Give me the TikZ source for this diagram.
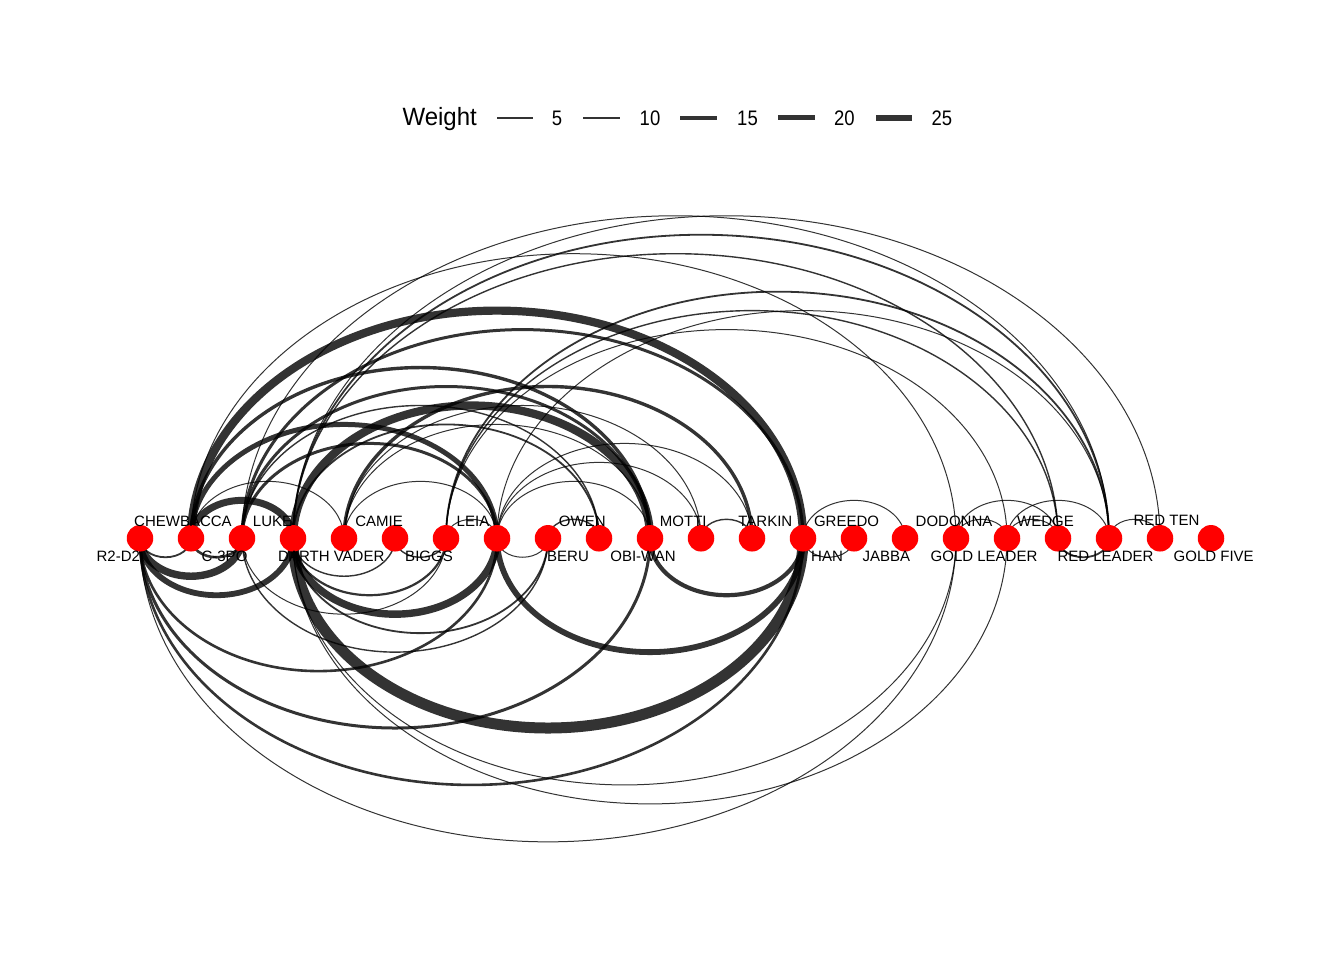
\documentclass[tikz,border=0pt]{standalone}
\usepackage{fontspec}
\setmainfont{Liberation Sans}
\usepackage{graphicx}
\usetikzlibrary{calc,backgrounds}
\definecolor{edgegray}{RGB}{51,51,51}
\tikzset{
  dot/.style={circle, fill={rgb,255:red,255;green,0;blue,0}, draw=none, minimum size=26.5pt, inner sep=0pt},
  lab/.style={anchor=base, inner sep=0pt, font=\fontsize{15}{18}\selectfont},
  edgeline/.style={draw=black, draw opacity=0.8, line cap=butt},
  legbar/.style={fill=edgegray, draw=none},
  legnum/.style={anchor=base, inner sep=0pt, font=\fontsize{21}{24}\selectfont},
}
\newcommand{\edgeup}[3]{\draw[edgeline, line width={0.4*#3+0.6}] let \p1=(n#1), \p2=(n#2) in (\p1) arc[start angle=180, end angle=0, x radius={(\x2-\x1)/2}, y radius={0.744*(\x2-\x1)/2}];}
\newcommand{\edgedn}[3]{\draw[edgeline, line width={0.4*#3+0.6}] let \p1=(n#1), \p2=(n#2) in (\p1) arc[start angle=180, end angle=360, x radius={(\x2-\x1)/2}, y radius={0.744*(\x2-\x1)/2}];}
\begin{document}
\begin{tikzpicture}[x=1pt,y=1pt]
\useasboundingbox (0,0) rectangle (1344,960);
% nodes
\foreach \i in {0,...,21} \node[dot] (n\i) at ({140+51*\i},421.7) {};
% edges
\begin{scope}[on background layer]
\fill[white] (0,0) rectangle (1344,960);
% above arcs (left to right)
\edgeup{1}{10}{7}
\edgeup{1}{3}{16}
\edgeup{1}{13}{19}
\edgeup{1}{7}{11}
\edgeup{1}{4}{1}
\edgeup{1}{16}{1}
\edgeup{4}{7}{1}
\edgeup{8}{9}{2}
\edgeup{3}{9}{3}
\edgeup{2}{9}{2}
\edgeup{2}{7}{6}
\edgeup{3}{10}{19}
\edgeup{2}{10}{6}
\edgeup{7}{10}{1}
\edgeup{11}{12}{2}
\edgeup{4}{11}{1}
\edgeup{4}{12}{7}
\edgeup{13}{15}{1}
\edgeup{2}{13}{6}
\edgeup{7}{11}{1}
\edgeup{7}{12}{1}
\edgeup{4}{10}{1}
\edgeup{16}{17}{1}
\edgeup{16}{18}{1}
\edgeup{17}{18}{1}
\edgeup{3}{18}{2}
\edgeup{6}{7}{1}
\edgeup{7}{19}{1}
\edgeup{3}{19}{3}
\edgeup{6}{19}{3}
\edgeup{2}{19}{1}
\edgeup{17}{19}{1}
\edgeup{6}{18}{2}
\edgeup{19}{20}{1}
\edgeup{6}{17}{1}
\edgeup{3}{20}{1}
% below arcs
\edgedn{0}{2}{17}
\edgedn{0}{3}{13}
\edgedn{0}{10}{6}
\edgedn{0}{7}{5}
\edgedn{0}{13}{5}
\edgedn{0}{1}{3}
\edgedn{0}{16}{1}
\edgedn{1}{2}{5}
\edgedn{3}{5}{2}
\edgedn{5}{6}{2}
\edgedn{3}{6}{4}
\edgedn{3}{8}{3}
\edgedn{2}{8}{2}
\edgedn{3}{7}{17}
\edgedn{7}{8}{1}
\edgedn{10}{13}{9}
\edgedn{3}{13}{26}
\edgedn{13}{14}{1}
\edgedn{7}{13}{13}
\edgedn{3}{16}{1}
\edgedn{3}{17}{1}
\edgedn{2}{6}{1}
\edgedn{18}{19}{3}
\end{scope}
% labels
\node[lab] (l0) at (118.3,398.3) {R2-D2};
\node[lab] (l1) at (183,433.3) {CHEWBACCA};
\node[lab] (l2) at (224.5,398.3) {C-3PO};
\node[lab] (l3) at (272.5,433.3) {LUKE};
\node[lab] (l4) at (331.3,398.3) {DARTH VADER};
\node[lab] (l5) at (379,433.3) {CAMIE};
\node[lab] (l6) at (429,398.3) {BIGGS};
\node[lab] (l7) at (473,433.3) {LEIA};
\node[lab] (l8) at (568,398.3) {BERU};
\node[lab] (l9) at (582.3,433.3) {OWEN};
\node[lab] (l10) at (643,398.3) {OBI-WAN};
\node[lab] (l11) at (683.3,433.3) {MOTTI};
\node[lab] (l12) at (765.3,433.3) {TARKIN};
\node[lab] (l13) at (827,398.3) {HAN};
\node[lab] (l14) at (846.5,433.3) {GREEDO};
\node[lab] (l15) at (886.3,398.3) {JABBA};
\node[lab] (l16) at (954,433.3) {DODONNA};
\node[lab] (l17) at (984,398.3) {GOLD LEADER};
\node[lab] (l18) at (1045.5,433.3) {WEDGE};
\node[lab] (l19) at (1105.5,398.3) {RED LEADER};
\node[lab] (l20) at (1166.5,434) {RED TEN};
\node[lab] (l21) at (1213.7,398.3) {GOLD FIVE};
% legend
\node[anchor=base, inner sep=0pt, font=\fontsize{25}{29}\selectfont] (legtitle) at (439.7,834) {\scalebox{0.96}[1]{Weight}};
\fill[legbar] (496.7,841.2) rectangle (533.4,842.8);
\fill[legbar] (583.4,840.6) rectangle (619.8,843.4);
\fill[legbar] (680.4,840.0) rectangle (717.1,844.0);
\fill[legbar] (777.7,839.5) rectangle (814.5,844.5);
\fill[legbar] (875.5,838.9) rectangle (912.2,845.1);
\node[legnum] (t1) at (557,834) {\scalebox{0.88}[1]{5}};
\node[legnum] (t2) at (650,834) {\scalebox{0.88}[1]{10}};
\node[legnum] (t3) at (747.5,834) {\scalebox{0.88}[1]{15}};
\node[legnum] (t4) at (844.4,834) {\scalebox{0.88}[1]{20}};
\node[legnum] (t5) at (941.8,834) {\scalebox{0.88}[1]{25}};
\end{tikzpicture}
\end{document}
